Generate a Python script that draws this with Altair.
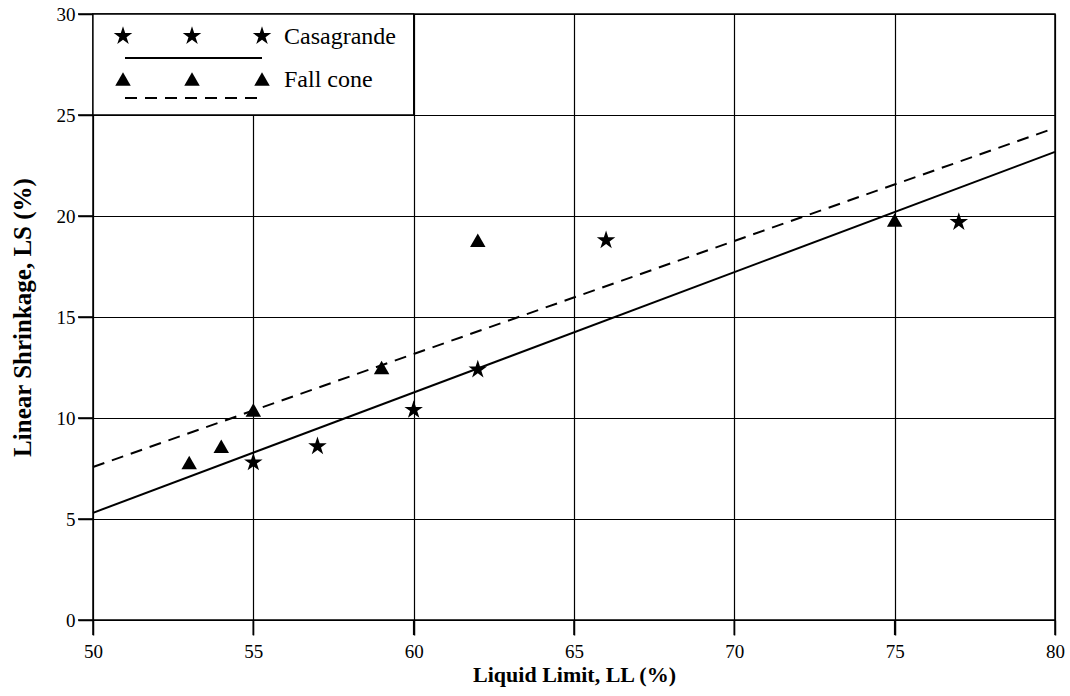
import altair as alt
import pandas as pd

# Data
cas_ll = [55, 57, 60, 62, 66, 77]
cas_ls = [7.8, 8.6, 10.4, 12.4, 18.8, 19.7]
fc_ll = [53, 54, 55, 59, 62, 75]
fc_ls = [7.8, 8.6, 10.4, 12.5, 18.8, 19.8]

x_ticks = [50, 55, 60, 65, 70, 75, 80]
y_ticks = [0, 5, 10, 15, 20, 25, 30]

cas = pd.DataFrame({"LL": cas_ll, "LS": cas_ls})
fc = pd.DataFrame({"LL": fc_ll, "LS": fc_ls})
xt = pd.DataFrame({"LL": x_ticks})
yt = pd.DataFrame({"LS": y_ticks})
one = pd.DataFrame({"a": [0]})

STAR = ("M0,-1 L0.225,-0.309 L0.951,-0.309 L0.363,0.118 L0.588,0.809 "
        "L0,0.382 L-0.588,0.809 L-0.363,0.118 L-0.951,-0.309 L-0.225,-0.309 Z")
FONT = "Liberation Serif"
DASH = [12, 8]
STAR_SIZE = 380
TRI_SIZE = 240
W, H, TICK = 962, 606, 15

tick_style = dict(ticks=True, tickColor="#000000", tickSize=TICK, tickWidth=1.5, tickOpacity=1,
                  domain=False, grid=True, gridColor="#000000", gridWidth=1.2, gridOpacity=1,
                  labelFlush=False, labelFont=FONT, labelFontSize=19, labelColor="black",
                  titleFont=FONT, titleFontWeight="bold", titleColor="black")

xs = alt.Scale(domain=[50, 80], nice=False, zero=False)
ys = alt.Scale(domain=[0, 30], nice=False, zero=False)
xax = alt.Axis(values=x_ticks, title="Liquid Limit, LL (%)",
               titleFontSize=22, titlePadding=3, labelPadding=7, **tick_style)
yax = alt.Axis(values=y_ticks, title="Linear Shrinkage, LS (%)",
               titleFontSize=25, titlePadding=21, labelPadding=3, **tick_style)

X = alt.X("LL:Q", scale=xs, axis=xax)
Y = alt.Y("LS:Q", scale=ys, axis=yax)

cas_pts = alt.Chart(cas).mark_point(shape=STAR, filled=True, size=STAR_SIZE, color="black", opacity=1).encode(x=X, y=Y)
fc_pts = alt.Chart(fc).mark_point(shape="triangle-up", filled=True, size=TRI_SIZE, color="black", opacity=1).encode(x=X, y=Y)

cas_fit = alt.Chart(cas).transform_regression("LL", "LS", extent=[50, 80]).mark_line(
    color="black", strokeWidth=2).encode(x=X, y=Y)
fc_fit = alt.Chart(fc).transform_regression("LL", "LS", extent=[50, 80]).mark_line(
    color="black", strokeWidth=2, strokeDash=DASH).encode(x=X, y=Y)

# Outward tick marks (drawn explicitly)
xtick_marks = alt.Chart(xt).mark_rule(color="black", strokeWidth=1.5, clip=False).encode(
    x=X, y=alt.value(H), y2=alt.value(H + TICK))
ytick_marks = alt.Chart(yt).mark_rule(color="black", strokeWidth=1.5, clip=False).encode(
    y=Y, x=alt.value(-TICK), x2=alt.value(0))

# Legend box (covers the gridlines in the upper-left cell)
box = alt.Chart(one).mark_rect(fill="white", stroke="black", strokeWidth=1.3).encode(
    x=alt.datum(50, scale=xs), x2=alt.datum(60), y=alt.datum(25, scale=ys), y2=alt.datum(30))

leg = []
for px in [30, 99, 169]:
    leg.append(alt.Chart(one).mark_point(shape=STAR, filled=True, size=STAR_SIZE, color="black", opacity=1)
               .encode(x=alt.value(px), y=alt.value(22)))
    leg.append(alt.Chart(one).mark_point(shape="triangle-up", filled=True, size=TRI_SIZE, color="black", opacity=1)
               .encode(x=alt.value(px), y=alt.value(65)))
leg.append(alt.Chart(one).mark_rule(color="black", strokeWidth=2)
           .encode(x=alt.value(32), x2=alt.value(169), y=alt.value(44)))
leg.append(alt.Chart(one).mark_rule(color="black", strokeWidth=2, strokeDash=DASH)
           .encode(x=alt.value(32), x2=alt.value(164), y=alt.value(84)))
leg.append(alt.Chart(one).mark_text(text="Casagrande", font=FONT, fontSize=24, align="left",
                                    baseline="middle", color="black")
           .encode(x=alt.value(191), y=alt.value(23)))
leg.append(alt.Chart(one).mark_text(text="Fall cone", font=FONT, fontSize=24, align="left",
                                    baseline="middle", color="black")
           .encode(x=alt.value(191), y=alt.value(66)))

chart = alt.layer(cas_fit, fc_fit, xtick_marks, ytick_marks, box, cas_pts, fc_pts, *leg).properties(
    width=W, height=H,
    autosize=alt.AutoSizeParams(type="none"),
    padding={"left": 93, "top": 14, "right": 15, "bottom": 76},
    background="white",
).configure_view(stroke="black", strokeWidth=1.5)

chart.save("out.html", embed_options={"renderer": "svg", "actions": False})
